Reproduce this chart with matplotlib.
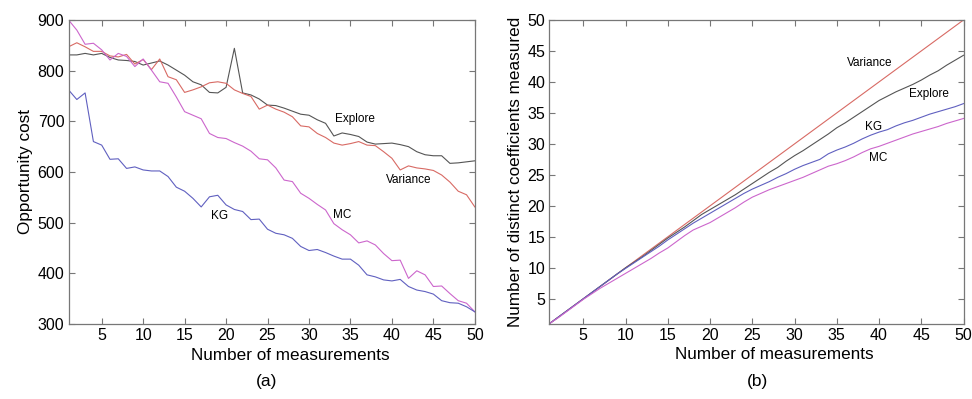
import numpy as np
import matplotlib.pyplot as plt

plt.rcParams['font.family'] = ['Liberation Sans', 'DejaVu Sans']

n_meas = np.arange(1, 51)

# (a) opportunity cost
cost_explore = [831, 831, 834, 831, 834, 826, 821, 820, 818, 811,
                815, 819, 811, 801, 791, 778, 772, 757, 756, 767,
                844, 756, 752, 744, 732, 731, 726, 720, 714, 712,
                703, 696, 671, 677, 674, 670, 659, 655, 656, 657,
                654, 650, 640, 634, 632, 632, 617, 618, 620, 622]
cost_variance = [847, 855, 847, 838, 838, 829, 827, 832, 813, 822,
                 802, 823, 788, 782, 757, 762, 768, 776, 778, 775,
                 762, 755, 749, 724, 732, 724, 718, 709, 691, 689,
                 676, 668, 657, 653, 656, 660, 653, 652, 640, 627,
                 604, 612, 608, 606, 603, 594, 580, 562, 555, 531]
cost_mc = [900, 880, 852, 854, 841, 821, 834, 828, 808, 823,
           801, 778, 775, 748, 719, 712, 705, 676, 668, 666,
           658, 651, 641, 626, 624, 608, 584, 581, 558, 548,
           536, 525, 498, 486, 476, 460, 464, 456, 439, 425,
           426, 390, 405, 397, 374, 375, 360, 346, 341, 324]
cost_kg = [762, 743, 756, 660, 653, 625, 626, 607, 610, 604,
           602, 602, 591, 570, 562, 548, 531, 551, 554, 535,
           526, 522, 506, 507, 487, 479, 476, 469, 453, 445,
           447, 441, 434, 428, 428, 416, 397, 393, 387, 385,
           388, 374, 367, 364, 359, 346, 342, 341, 334, 324]

# (b) distinct coefficients measured
dist_variance = list(range(1, 51))
dist_explore = [1, 2, 3, 4, 5, 6, 7, 8, 9, 10,
                10.9, 11.8, 12.8, 13.8, 14.8, 15.7, 16.6, 17.6, 18.6, 19.4,
                20.2, 21.0, 21.8, 22.7, 23.6, 24.5, 25.4, 26.2, 27.2, 28.1,
                28.9, 29.8, 30.7, 31.6, 32.6, 33.4, 34.3, 35.2, 36.1, 37.0,
                37.7, 38.4, 39.0, 39.6, 40.3, 41.1, 41.8, 42.7, 43.5, 44.3]
dist_kg = [1, 2, 3, 4, 5, 6, 7, 8, 9, 9.9,
           10.8, 11.7, 12.6, 13.5, 14.5, 15.4, 16.3, 17.2, 18.0, 18.8,
           19.6, 20.4, 21.2, 22.0, 22.7, 23.3, 23.9, 24.6, 25.2, 25.9,
           26.5, 27.0, 27.5, 28.4, 29.0, 29.5, 30.1, 30.8, 31.4, 31.9,
           32.3, 32.9, 33.4, 33.8, 34.3, 34.8, 35.2, 35.6, 36.0, 36.5]
dist_mc = [1, 1.9, 2.9, 3.9, 4.9, 5.8, 6.7, 7.5, 8.3, 9.1,
           9.9, 10.7, 11.5, 12.4, 13.2, 14.2, 15.2, 16.1, 16.7, 17.3,
           18.1, 18.9, 19.7, 20.6, 21.4, 22.0, 22.6, 23.1, 23.6, 24.1,
           24.6, 25.2, 25.8, 26.4, 26.8, 27.3, 27.9, 28.6, 29.2, 29.6,
           30.1, 30.6, 31.1, 31.6, 32.0, 32.4, 32.8, 33.3, 33.7, 34.1]

c_explore = '#555555'
c_variance = '#d86a64'
c_mc = '#cc66cc'
c_kg = '#6060c0'

fig = plt.figure(figsize=(9.72, 3.99), dpi=100)
ax1 = fig.add_axes([0.0705, 0.188, 0.418, 0.762])
ax2 = fig.add_axes([0.5653, 0.189, 0.426, 0.761])

lw = 0.8
ax1.plot(n_meas, cost_explore, color=c_explore, lw=lw)
ax1.plot(n_meas, cost_variance, color=c_variance, lw=lw)
ax1.plot(n_meas, cost_mc, color=c_mc, lw=lw)
ax1.plot(n_meas, cost_kg, color=c_kg, lw=lw)
ax1.set_xlim(1, 50)
ax1.set_ylim(300, 900)
ax1.set_xticks(range(5, 51, 5))
ax1.set_yticks(range(300, 901, 100))
ax1.set_xlabel('Number of measurements', fontsize=12.3)
ax1.set_ylabel('Opportunity cost', fontsize=12.3, labelpad=3)
ax1.xaxis.set_label_coords(0.545, -0.103, transform=ax1.transAxes)
ax1.xaxis.label.set_va('center')
ax1.text(35.5, 704, 'Explore', fontsize=8.5, ha='center', va='center')
ax1.text(42, 584, 'Variance', fontsize=8.5, ha='center', va='center')
ax1.text(34, 515, 'MC', fontsize=8.5, ha='center', va='center')
ax1.text(19.2, 513, 'KG', fontsize=8.5, ha='center', va='center')

ax2.plot(n_meas, dist_variance, color=c_variance, lw=lw)
ax2.plot(n_meas, dist_explore, color=c_explore, lw=lw)
ax2.plot(n_meas, dist_kg, color=c_kg, lw=lw)
ax2.plot(n_meas, dist_mc, color=c_mc, lw=lw)
ax2.set_xlim(1, 50)
ax2.set_ylim(1, 50)
ax2.set_xticks(range(5, 51, 5))
ax2.set_yticks(range(5, 51, 5))
ax2.set_xlabel('Number of measurements', fontsize=12.3)
ax2.set_ylabel('Number of distinct coefficients measured', fontsize=12.3, labelpad=3)
ax2.xaxis.set_label_coords(0.542, -0.103, transform=ax2.transAxes)
ax2.xaxis.label.set_va('center')
ax2.text(38.9, 43.1, 'Variance', fontsize=8.5, ha='center', va='center')
ax2.text(45.9, 38.0, 'Explore', fontsize=8.5, ha='center', va='center')
ax2.text(39.4, 32.8, 'KG', fontsize=8.5, ha='center', va='center')
ax2.text(39.9, 27.8, 'MC', fontsize=8.5, ha='center', va='center')

for ax in (ax1, ax2):
    for s in ax.spines.values():
        s.set_color('#777777')
        s.set_linewidth(0.9)
    ax.tick_params(direction='in', top=True, right=True, length=4,
                   width=0.8, color='#777777', labelsize=11.5, pad=3)

fig.text(0.274, 0.043, '(a)', fontsize=12.5, ha='center', va='center')
fig.text(0.779, 0.043, '(b)', fontsize=12.5, ha='center', va='center')

fig.savefig('out.png', dpi=100)
